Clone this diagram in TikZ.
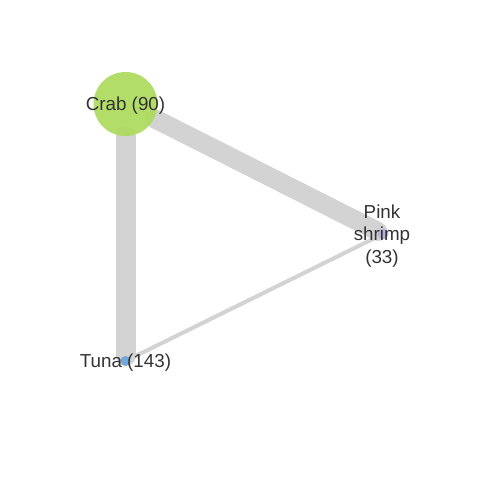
\documentclass[tikz,border=0pt]{standalone}
\usepackage{fontspec}
\setmainfont{Liberation Sans}
\usetikzlibrary{backgrounds}
\definecolor{edgegrey}{RGB}{211,211,211}
\definecolor{crabgreen}{RGB}{172,219,92}
\definecolor{tunablue}{RGB}{105,165,218}
\definecolor{pinklav}{RGB}{182,176,220}
\definecolor{txt}{RGB}{51,51,51}
\tikzset{
  vertex/.style={circle, inner sep=0pt, draw=none, fill opacity=0.92},
  lbl/.style={text=txt, font=\fontsize{18.8}{22.8}\selectfont, align=center, inner sep=0pt, yshift=-2pt},
  link/.style={draw=edgegrey, line cap=round},
}
\begin{document}
\begin{tikzpicture}[x=1pt,y=1pt]
\useasboundingbox (0,0) rectangle (480,480);
\node[vertex, fill=crabgreen, minimum size=64pt] (crab) at (125.5,376) {};
\node[vertex, fill=pinklav, minimum size=11pt] (pink) at (383,246) {};
\node[vertex, fill=tunablue, minimum size=10pt] (tuna) at (125.5,119) {};
\begin{scope}[on background layer]
\fill[white] (0,0) rectangle (480,480);
\draw[link, line width=20pt] (crab) -- (tuna);
\draw[link, line width=19pt] (crab) -- (pink);
\draw[link, line width=4pt] (pink) -- (tuna);
\end{scope}
\node[lbl] (crablbl) at (crab.center) {Crab (90)};
\node[lbl] (pinklbl) at (382,246) {Pink\\shrimp\\(33)};
\node[lbl] (tunalbl) at (tuna.center) {Tuna (143)};
\end{tikzpicture}
\end{document}
